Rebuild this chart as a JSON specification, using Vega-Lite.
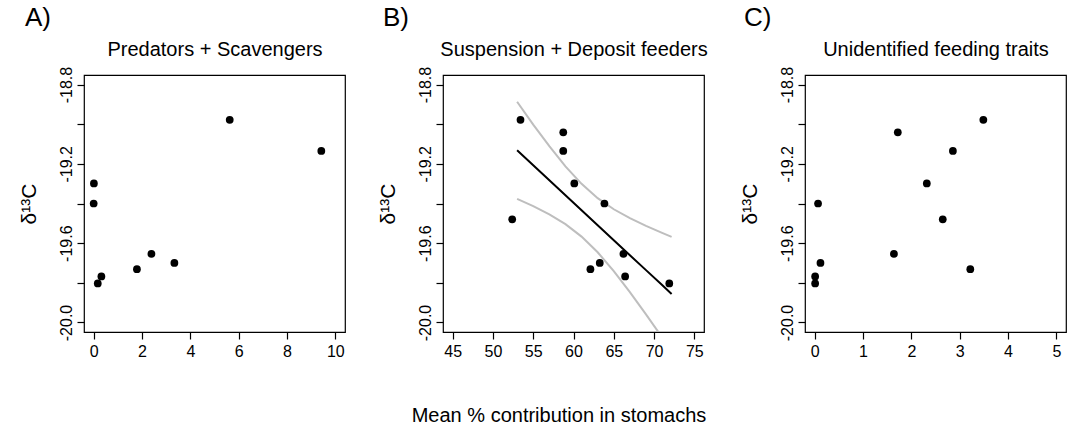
{
  "$schema": "https://vega.github.io/schema/vega-lite/v6.json",
  "padding": {"left": 17, "top": 4, "right": 4, "bottom": 4},
  "background": "white",
  "datasets": {
    "a": [
      {"x": 5.63, "y": -18.978}, {"x": 9.42, "y": -19.135}, {"x": 0.01, "y": -19.299},
      {"x": 0.0, "y": -19.40}, {"x": 2.39, "y": -19.654}, {"x": 3.34, "y": -19.70},
      {"x": 1.79, "y": -19.731}, {"x": 0.32, "y": -19.768}, {"x": 0.17, "y": -19.803}
    ],
    "b": [
      {"x": 53.42, "y": -18.978}, {"x": 58.73, "y": -19.041}, {"x": 58.73, "y": -19.135},
      {"x": 60.10, "y": -19.299}, {"x": 63.84, "y": -19.40}, {"x": 52.39, "y": -19.480},
      {"x": 66.20, "y": -19.654}, {"x": 63.26, "y": -19.70}, {"x": 62.10, "y": -19.731},
      {"x": 66.41, "y": -19.768}, {"x": 71.89, "y": -19.803}
    ],
    "fit": [
      {"x": 53.0, "fit": -19.132, "upr": -18.887, "lwr": -19.377},
      {"x": 55.0, "fit": -19.2075, "upr": -19.002, "lwr": -19.413},
      {"x": 57.0, "fit": -19.283, "upr": -19.111, "lwr": -19.455},
      {"x": 59.0, "fit": -19.3585, "upr": -19.213, "lwr": -19.504},
      {"x": 61.0, "fit": -19.434, "upr": -19.301, "lwr": -19.567},
      {"x": 63.0, "fit": -19.5095, "upr": -19.373, "lwr": -19.646},
      {"x": 65.0, "fit": -19.585, "upr": -19.429, "lwr": -19.741},
      {"x": 67.0, "fit": -19.6605, "upr": -19.474, "lwr": -19.847},
      {"x": 69.0, "fit": -19.736, "upr": -19.513, "lwr": -19.959},
      {"x": 71.0, "fit": -19.8115, "upr": -19.548, "lwr": -20.075},
      {"x": 72.18, "fit": -19.856, "upr": -19.568, "lwr": -20.144}
    ],
    "c": [
      {"x": 3.49, "y": -18.978}, {"x": 1.72, "y": -19.041}, {"x": 2.86, "y": -19.135},
      {"x": 2.32, "y": -19.299}, {"x": 0.07, "y": -19.40}, {"x": 2.65, "y": -19.480},
      {"x": 1.64, "y": -19.654}, {"x": 0.12, "y": -19.70}, {"x": 3.22, "y": -19.731},
      {"x": 0.01, "y": -19.768}, {"x": 0.01, "y": -19.803}
    ]
  },
  "title": {
    "text": "Mean % contribution in stomachs",
    "orient": "bottom",
    "anchor": "middle",
    "fontSize": 20,
    "fontWeight": "normal",
    "font": "Liberation Sans",
    "color": "black",
    "offset": 46,
    "dx": 17
  },
  "spacing": 30,
  "hconcat": [
    {
      "width": 261,
      "height": 257,
      "title": {"text": "A)", "anchor": "start", "frame": "bounds", "fontSize": 26, "fontWeight": "normal", "color": "black", "offset": 8, "dx": 7},
      "resolve": {"axis": {"x": "independent"}},
      "layer": [
        {
          "data": {"name": "a"},
          "mark": {"type": "point", "filled": true, "color": "black", "size": 60, "opacity": 1},
          "encoding": {
            "x": {"field": "x", "type": "quantitative", "scale": {"domain": [-0.4, 10.4], "nice": false, "zero": false}, "axis": {"values": [0, 2, 4, 6, 8, 10], "title": null}},
            "y": {"field": "y", "type": "quantitative", "scale": {"domain": [-20.048, -18.752], "nice": false, "zero": false},
              "axis": {"title": "δ¹³C", "values": [-20, -19.8, -19.6, -19.4, -19.2, -19, -18.8],
                "labelExpr": "abs(datum.value+20)<0.01 ? '-20.0' : abs(datum.value+19.6)<0.01 ? '-19.6' : abs(datum.value+19.2)<0.01 ? '-19.2' : abs(datum.value+18.8)<0.01 ? '-18.8' : ''"}}
          }
        },
        {
          "data": {"name": "a"},
          "mark": {"type": "point", "opacity": 0},
          "encoding": {
            "x": {"field": "x", "type": "quantitative", "axis": {"orient": "top", "title": "Predators + Scavengers", "labels": false, "ticks": false, "domain": false, "titlePadding": 16}},
            "y": {"field": "y", "type": "quantitative"}
          }
        }
      ]
    },
    {
      "width": 261,
      "height": 257,
      "title": {"text": "B)", "anchor": "start", "frame": "bounds", "fontSize": 26, "fontWeight": "normal", "color": "black", "offset": 8, "dx": 6},
      "resolve": {"axis": {"x": "independent"}},
      "layer": [
        {
          "data": {"name": "fit"},
          "mark": {"type": "line", "color": "#BEBEBE", "strokeWidth": 2, "clip": true},
          "encoding": {
            "x": {"field": "x", "type": "quantitative", "scale": {"domain": [43.8, 76.2], "nice": false, "zero": false}, "axis": {"values": [45, 50, 55, 60, 65, 70, 75], "title": null}},
            "y": {"field": "upr", "type": "quantitative", "scale": {"domain": [-20.048, -18.752], "nice": false, "zero": false},
              "axis": {"title": "δ¹³C", "values": [-20, -19.8, -19.6, -19.4, -19.2, -19, -18.8],
                "labelExpr": "abs(datum.value+20)<0.01 ? '-20.0' : abs(datum.value+19.6)<0.01 ? '-19.6' : abs(datum.value+19.2)<0.01 ? '-19.2' : abs(datum.value+18.8)<0.01 ? '-18.8' : ''"}}
          }
        },
        {
          "data": {"name": "fit"},
          "mark": {"type": "line", "color": "#BEBEBE", "strokeWidth": 2, "clip": true},
          "encoding": {
            "x": {"field": "x", "type": "quantitative", "axis": null},
            "y": {"field": "lwr", "type": "quantitative"}
          }
        },
        {
          "data": {"name": "fit"},
          "mark": {"type": "line", "color": "black", "strokeWidth": 2, "clip": true},
          "encoding": {
            "x": {"field": "x", "type": "quantitative", "axis": null},
            "y": {"field": "fit", "type": "quantitative"}
          }
        },
        {
          "data": {"name": "b"},
          "mark": {"type": "point", "filled": true, "color": "black", "size": 60, "opacity": 1},
          "encoding": {
            "x": {"field": "x", "type": "quantitative", "axis": null},
            "y": {"field": "y", "type": "quantitative"}
          }
        },
        {
          "data": {"name": "b"},
          "mark": {"type": "point", "opacity": 0},
          "encoding": {
            "x": {"field": "x", "type": "quantitative", "axis": {"orient": "top", "title": "Suspension + Deposit feeders", "labels": false, "ticks": false, "domain": false, "titlePadding": 16}},
            "y": {"field": "y", "type": "quantitative"}
          }
        }
      ]
    },
    {
      "width": 261,
      "height": 257,
      "title": {"text": "C)", "anchor": "start", "frame": "bounds", "fontSize": 26, "fontWeight": "normal", "color": "black", "offset": 8, "dx": 5},
      "resolve": {"axis": {"x": "independent"}},
      "layer": [
        {
          "data": {"name": "c"},
          "mark": {"type": "point", "filled": true, "color": "black", "size": 60, "opacity": 1},
          "encoding": {
            "x": {"field": "x", "type": "quantitative", "scale": {"domain": [-0.2, 5.2], "nice": false, "zero": false}, "axis": {"values": [0, 1, 2, 3, 4, 5], "title": null}},
            "y": {"field": "y", "type": "quantitative", "scale": {"domain": [-20.048, -18.752], "nice": false, "zero": false},
              "axis": {"title": "δ¹³C", "values": [-20, -19.8, -19.6, -19.4, -19.2, -19, -18.8],
                "labelExpr": "abs(datum.value+20)<0.01 ? '-20.0' : abs(datum.value+19.6)<0.01 ? '-19.6' : abs(datum.value+19.2)<0.01 ? '-19.2' : abs(datum.value+18.8)<0.01 ? '-18.8' : ''"}}
          }
        },
        {
          "data": {"name": "c"},
          "mark": {"type": "point", "opacity": 0},
          "encoding": {
            "x": {"field": "x", "type": "quantitative", "axis": {"orient": "top", "title": "Unidentified feeding traits", "labels": false, "ticks": false, "domain": false, "titlePadding": 16}},
            "y": {"field": "y", "type": "quantitative"}
          }
        }
      ]
    }
  ],
  "config": {
    "font": "Liberation Sans",
    "view": {"stroke": "black", "strokeWidth": 1.2},
    "title": {"font": "Liberation Sans", "color": "black"},
    "axis": {
      "grid": false,
      "domain": false,
      "tickColor": "black",
      "tickSize": 7,
      "tickWidth": 1.2,
      "labelColor": "black",
      "labelFont": "Liberation Sans",
      "labelFontSize": 16,
      "labelPadding": 3,
      "labelOverlap": false,
      "labelFlush": false,
      "titleFont": "Liberation Sans",
      "titleFontSize": 20,
      "titleFontWeight": "normal",
      "titleColor": "black"
    },
    "axisY": {
      "labelAngle": -90,
      "labelAlign": "center",
      "labelBaseline": "bottom",
      "titlePadding": 19,
      "titleFontSize": 21
    },
    "axisX": {
      "labelPadding": 4
    }
  }
}
